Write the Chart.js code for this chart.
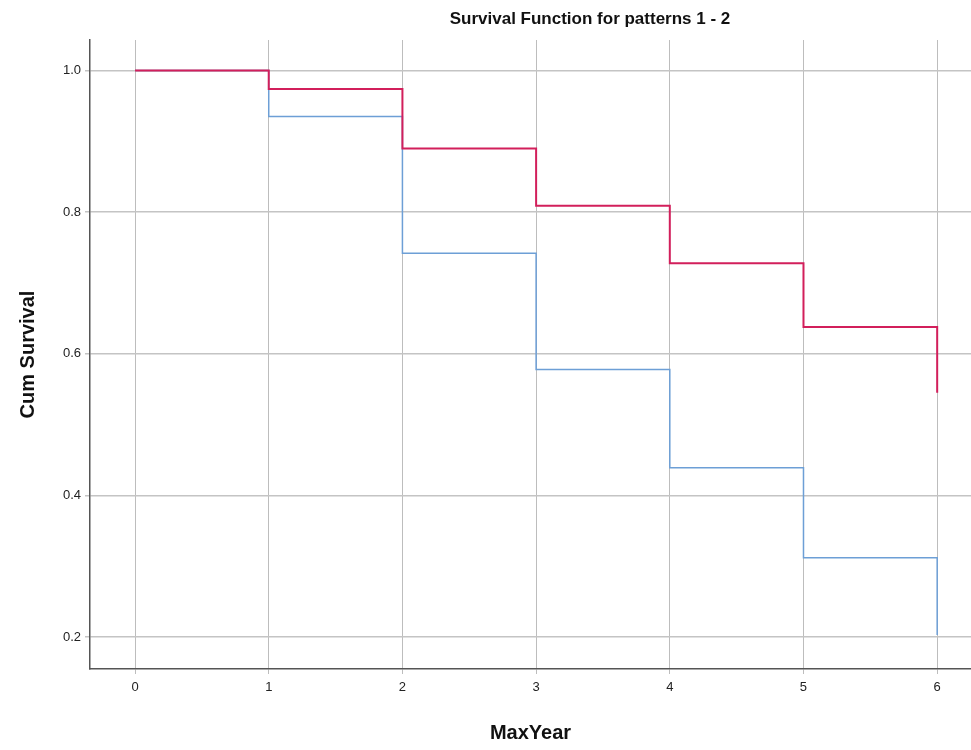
<!DOCTYPE html>
<html lang="en">
<head>
<meta charset="UTF-8">
<title>Survival Function for patterns 1 - 2</title>
<script src="https://cdn.jsdelivr.net/npm/chart.js"></script>
<style>
body {
  margin: 0;
  padding: 0;
  background: #fff;
}
#wrap {
  width: 971px;
  height: 750px;
}
</style>
</head>
<body>

<div id="wrap">
  <canvas id="survivalChart" width="971" height="750"></canvas>
</div>

<script>
// Kaplan-Meier steps
const years = [0, 1, 2, 3, 4, 5, 6];
const pattern1 = [1.0, 0.935, 0.742, 0.578, 0.439, 0.312, 0.203];
const pattern2 = [1.0, 0.974, 0.890, 0.809, 0.728, 0.638, 0.545];
const xTicks = [0, 1, 2, 3, 4, 5, 6];
const yTicks = [0.2, 0.4, 0.6, 0.8, 1.0];

const titleText = 'Survival Function for patterns 1 - 2';

function toPoints(ys) {
  return years.map((x, i) => ({ x: x, y: ys[i] }));
}

// title sits right of the plot centre, as in the original
const titlePlugin = {
  id: 'offsetTitle',
  afterDraw(chart) {
    const ctx = chart.ctx;
    ctx.save();
    ctx.font = 'bold 17px "Liberation Sans", Arial, sans-serif';
    ctx.fillStyle = '#111';
    ctx.textAlign = 'center';
    ctx.textBaseline = 'middle';
    ctx.fillText(titleText, 590, 19);
    ctx.restore();
  }
};

const ctx = document.getElementById('survivalChart').getContext('2d');
new Chart(ctx, {
  type: 'line',
  data: {
    datasets: [
      {
        label: 'Pattern 2',
        data: toPoints(pattern2),
        borderColor: '#d21f5b',
        borderWidth: 2,
        stepped: 'before',
        pointRadius: 0,
        fill: false
      },
      {
        label: 'Pattern 1',
        data: toPoints(pattern1),
        borderColor: '#6d9fd6',
        borderWidth: 1.5,
        stepped: 'before',
        pointRadius: 0,
        fill: false
      }
    ]
  },
  options: {
    responsive: false,
    animation: false,
    layout: { padding: { top: 40, right: 0, left: 0, bottom: 0 } },
    plugins: {
      legend: { display: false },
      tooltip: { enabled: false }
    },
    scales: {
      x: {
        type: 'linear',
        min: -0.337,
        max: 6.253,
        afterBuildTicks: (scale) => { scale.ticks = xTicks.map(v => ({ value: v })); },
        afterFit: (scale) => { scale.height = 81; },
        ticks: {
          color: '#222',
          font: { family: '"Liberation Sans", Arial, sans-serif', size: 13 },
          padding: 6,
          maxRotation: 0,
          callback: (v) => String(v)
        },
        grid: { color: '#bdbdbd', lineWidth: 1, tickLength: 5 },
        border: { color: '#555', width: 1.5 },
        title: {
          display: true,
          text: 'MaxYear',
          color: '#111',
          font: { family: '"Liberation Sans", Arial, sans-serif', size: 20, weight: 'bold' },
          padding: { top: 0, bottom: 5 }
        }
      },
      y: {
        type: 'linear',
        min: 0.155,
        max: 1.043,
        afterBuildTicks: (scale) => { scale.ticks = yTicks.map(v => ({ value: v })); },
        afterFit: (scale) => { scale.width = 90; },
        ticks: {
          color: '#222',
          font: { family: '"Liberation Sans", Arial, sans-serif', size: 13 },
          padding: 4,
          callback: (v) => Number(v).toFixed(1)
        },
        grid: { color: '#c4c4c4', lineWidth: 1.5, tickLength: 5 },
        border: { color: '#555', width: 1.5 },
        title: {
          display: true,
          text: 'Cum Survival',
          color: '#111',
          font: { family: '"Liberation Sans", Arial, sans-serif', size: 20, weight: 'bold' },
          padding: { top: 16, bottom: 0 }
        }
      }
    }
  },
  plugins: [titlePlugin]
});
</script>

</body>
</html>
